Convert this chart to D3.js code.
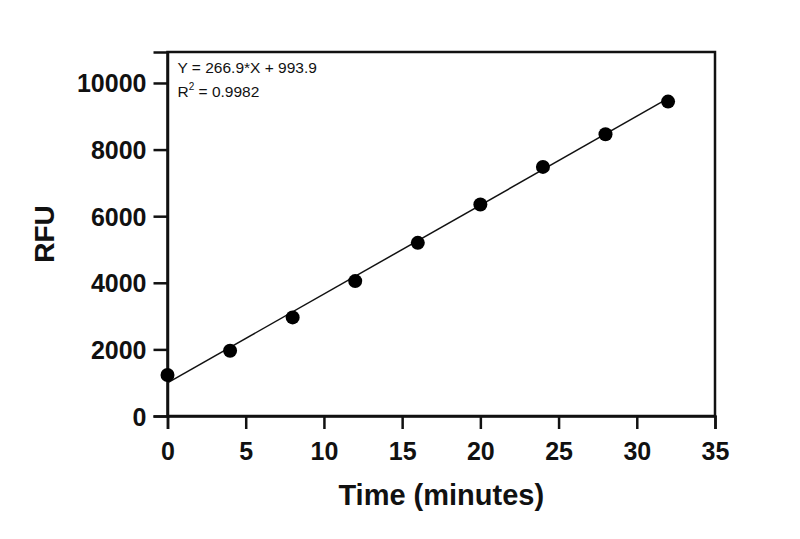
<!DOCTYPE html>
<html>
<head>
<meta charset="utf-8">
<script src="https://cdn.jsdelivr.net/npm/d3@7"></script>
<style>
  body { margin: 0; background: #fff; }
  text { font-family: "Liberation Sans", Arial, sans-serif; fill: #111; }
</style>
</head>
<body>
<div id="chart"></div>
<script>
// data
const timeMin = [0, 4, 8, 12, 16, 20, 24, 28, 32];
const rfu = [1230, 1960, 2960, 4050, 5200, 6350, 7480, 8460, 9440];
const fitSlope = 266.9;
const fitIntercept = 993.9;
const xTicks = [0, 5, 10, 15, 20, 25, 30, 35];
const yTicks = [0, 2000, 4000, 6000, 8000, 10000];

const W = 800, H = 539;
const margin = { top: 52, right: 85, bottom: 123, left: 167.5 };
const width = W - margin.left - margin.right;
const height = H - margin.top - margin.bottom;

const svg = d3.select("#chart").append("svg")
    .attr("width", W)
    .attr("height", H)
    .append("g")
    .attr("transform", `translate(${margin.left},${margin.top})`);

const x = d3.scaleLinear().domain([0, 35]).range([0, width]);
const y = d3.scaleLinear().domain([0, 10930]).range([height, 0]);

// frame
svg.append("rect")
    .attr("x", 0).attr("y", 0)
    .attr("width", width).attr("height", height)
    .attr("fill", "none")
    .attr("stroke", "#111")
    .attr("stroke-width", 2.5);

const xAxis = svg.append("g")
    .attr("transform", `translate(0,${height})`)
    .call(d3.axisBottom(x).tickValues(xTicks).tickSize(13).tickPadding(13).tickFormat(d3.format("d")));

const yAxis = svg.append("g")
    .call(d3.axisLeft(y).tickValues(yTicks).tickSize(14).tickPadding(7).tickFormat(d3.format("d")));

[xAxis, yAxis].forEach(a => {
    a.select(".domain").attr("stroke", "#111").attr("stroke-width", 2.5);
    a.selectAll(".tick line").attr("stroke", "#111").attr("stroke-width", 2.5);
    a.selectAll(".tick text")
        .style("font-family", "'Liberation Sans', Arial, sans-serif")
        .style("font-size", "25px")
        .style("font-weight", "bold")
        .attr("fill", "#111");
});
yAxis.selectAll(".tick text").attr("dy", "0.36em");

// fitted line
svg.append("line")
    .attr("x1", x(0)).attr("y1", y(fitIntercept))
    .attr("x2", x(32)).attr("y2", y(fitSlope * 32 + fitIntercept))
    .attr("stroke", "#111")
    .attr("stroke-width", 1.5);

// points
svg.selectAll(".pt")
    .data(timeMin.map((t, i) => ({ t, v: rfu[i] })))
    .enter()
    .append("circle")
    .attr("class", "pt")
    .attr("cx", d => x(d.t))
    .attr("cy", d => y(d.v))
    .attr("r", 7)
    .attr("fill", "#000");

// equation
svg.append("text")
    .attr("x", 10).attr("y", 21)
    .style("font-size", "15.5px")
    .text(`Y = ${fitSlope}*X + ${fitIntercept}`);

const r2 = svg.append("text")
    .attr("x", 10).attr("y", 45)
    .style("font-size", "15.5px");
r2.append("tspan").text("R");
r2.append("tspan").attr("dy", -7).style("font-size", "10px").text("2");
r2.append("tspan").attr("dy", 7).text(" = 0.9982");

// axis titles
svg.append("text")
    .attr("x", width / 2)
    .attr("y", height + 89)
    .attr("text-anchor", "middle")
    .style("font-size", "29px")
    .style("font-weight", "bold")
    .text("Time (minutes)");

svg.append("text")
    .attr("transform", `translate(${-114},${height / 2}) rotate(-90)`)
    .attr("text-anchor", "middle")
    .style("font-size", "28px")
    .style("font-weight", "bold")
    .text("RFU");
</script>
</body>
</html>
